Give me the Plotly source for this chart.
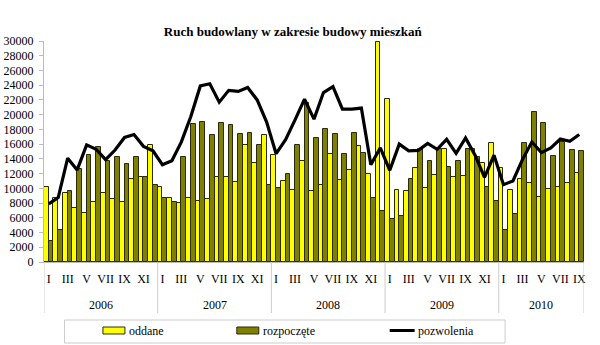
import plotly.graph_objects as go

# Monthly housing construction figures, Jan 2006 - Sep 2010
years = ["2006", "2007", "2008", "2009", "2010"]
months_per_year = [12, 12, 12, 12, 9]
month_labels = ["I", "II", "III", "IV", "V", "VI", "VII", "VIII", "IX", "X", "XI", "XII"]

oddane = [
    10200, 8700, 9300, 7300, 6600, 8100, 9400, 8500, 8100, 11200, 11500, 15900,
    10200, 8750, 8000, 8750, 8300, 8600, 11500, 11500, 10900, 15900, 13500, 17200,
    14500, 11000, 9750, 13700, 9600, 10400, 14600, 11100, 12500, 15700, 11900, 29800,
    22100, 9800, 9700, 12800, 10000, 11800, 15400, 11500, 11700, 15400, 13500, 16100,
    12700, 9750, 11300, 10750, 8850, 9950, 10200, 10750, 12100,
]
rozpoczete = [
    2800, 4400, 9600, 12600, 14500, 15600, 13700, 14200, 13300, 14300, 11500, 10500,
    8700, 8150, 14300, 18700, 18950, 17250, 18850, 18550, 17400, 17550, 15900, 10500,
    10050, 11950, 15950, 21650, 16800, 18000, 17400, 14600, 17450, 14750, 8750, 6900,
    5800, 6250, 11250, 15300, 13750, 15300, 12850, 13750, 15300, 14300, 10200, 8300,
    4300, 6550, 16200, 20300, 18850, 14450, 16350, 15200, 15050,
]
pozwolenia = [
    7900, 8750, 14100, 12500, 15900, 15300, 13900, 15200, 16900, 17300, 15700, 15100,
    13200, 13750, 16300, 19750, 23900, 24200, 21700, 23300, 23150, 23700, 22000, 19000,
    14700, 16600, 19300, 22100, 19400, 23000, 23800, 20750, 20750, 20900, 13200, 15500,
    12450, 16000, 15100, 15150, 16100, 15300, 16650, 14750, 16850, 14500, 11500, 14500,
    10500, 11000, 13900, 16300, 14850, 15500, 16700, 16400, 17300,
]

SERIF = "Liberation Serif, Times New Roman, serif"
YELLOW = "#FFFF00"
OLIVE = "#808000"
EDGE = "#2a2a10"

W, H = 600, 345
M_L, M_R, M_T, M_B = 44, 15.5, 41, 83
PLOT_W = W - M_L - M_R
PLOT_H = H - M_T - M_B


def px_x(p):
    """page pixel column -> paper x"""
    return (p - M_L) / PLOT_W


def px_y(p):
    """page pixel row -> paper y"""
    return (H - M_B - p) / PLOT_H


# month index along the axis and the Roman numeral of each month
x = list(range(len(oddane)))
roman = []
for n in months_per_year:
    roman += month_labels[:n]
tick_idx = [i for i, r in enumerate(roman) if month_labels.index(r) % 2 == 0]
tick_txt = [roman[i] for i in tick_idx]

fig = go.Figure()
fig.add_trace(go.Bar(
    x=x, y=oddane, name="oddane",
    marker=dict(color=YELLOW, line=dict(color=EDGE, width=1)),
))
fig.add_trace(go.Bar(
    x=x, y=rozpoczete, name="rozpoczęte",
    marker=dict(color=OLIVE, line=dict(color=EDGE, width=1)),
))
fig.add_trace(go.Scatter(
    x=x, y=pozwolenia, name="pozwolenia", mode="lines",
    line=dict(color="black", width=3.2),
))

# year group labels and dividers under the month axis
shapes = []
annotations = []
start = 0
bounds = [-0.5]
for yr, n in zip(years, months_per_year):
    annotations.append(dict(
        x=start + (n - 1) / 2, y=px_y(305), xref="x", yref="paper",
        text=yr, showarrow=False, yanchor="middle",
        font=dict(family=SERIF, size=12, color="black"),
    ))
    start += n
    bounds.append(start - 0.5)
for b in bounds:
    shapes.append(dict(
        type="line", xref="x", yref="paper", x0=b, x1=b, y0=0, y1=px_y(313),
        line=dict(color="#cccccc", width=1),
    ))

# boxed legend under the chart
shapes.append(dict(
    type="rect", xref="paper", yref="paper",
    x0=px_x(64.5), x1=px_x(505.5), y0=px_y(320), y1=px_y(343),
    line=dict(color="#cccccc", width=1), fillcolor="white", layer="below",
))
legend_items = [
    ("oddane", "box", YELLOW, 103, 127),
    ("rozpoczęte", "box", OLIVE, 237, 261),
    ("pozwolenia", "line", "black", 390, 416),
]
for label, kind, color, sx, tx in legend_items:
    if kind == "box":
        shapes.append(dict(
            type="rect", xref="paper", yref="paper",
            x0=px_x(sx), x1=px_x(sx + 22), y0=px_y(334), y1=px_y(327),
            fillcolor=color, line=dict(color=EDGE, width=1),
        ))
    else:
        shapes.append(dict(
            type="line", xref="paper", yref="paper",
            x0=px_x(sx), x1=px_x(sx + 25), y0=px_y(330.5), y1=px_y(330.5),
            line=dict(color=color, width=3),
        ))
    annotations.append(dict(
        x=px_x(tx), y=px_y(330.5), xref="paper", yref="paper",
        text=label, showarrow=False, xanchor="left", yanchor="middle",
        font=dict(family=SERIF, size=12, color="black"),
    ))

fig.update_layout(
    width=W, height=H,
    margin=dict(l=M_L, r=M_R, t=M_T, b=M_B, autoexpand=False),
    paper_bgcolor="white", plot_bgcolor="white",
    barmode="group", bargap=0, bargroupgap=0,
    showlegend=False,
    title=dict(
        text="<b>Ruch budowlany w zakresie budowy mieszkań</b>",
        x=0.488, xanchor="center", y=1 - 31 / H, yanchor="middle",
        font=dict(family=SERIF, size=13, color="black"),
    ),
    xaxis=dict(
        range=[-0.5, len(x) - 0.5], tickmode="array",
        tickvals=tick_idx, ticktext=tick_txt,
        showgrid=False, zeroline=False, showline=True,
        linecolor="#bbbbbb", linewidth=1, ticks="",
        ticklabelstandoff=6, automargin=False,
        tickfont=dict(family=SERIF, size=12, color="black"),
    ),
    yaxis=dict(
        range=[0, 30000], dtick=2000, tick0=0, tickformat="d",
        showgrid=False, zeroline=False, showline=True,
        linecolor="#bbbbbb", linewidth=1,
        ticks="outside", ticklen=4, tickcolor="#bbbbbb",
        ticklabelstandoff=3, automargin=False,
        tickfont=dict(family=SERIF, size=12, color="black"),
    ),
    shapes=shapes,
    annotations=annotations,
)

fig.write_html("out.html")
